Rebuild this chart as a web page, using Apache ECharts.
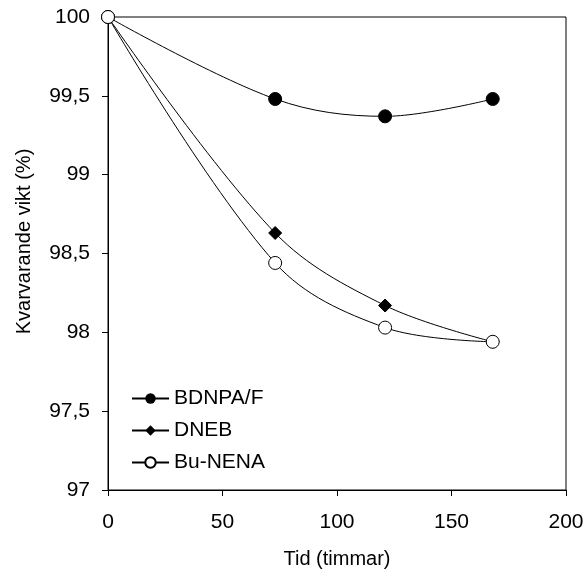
<!DOCTYPE html>
<html>
<head>
<meta charset="utf-8">
<script src="https://cdn.jsdelivr.net/npm/echarts@6/dist/echarts.min.js"></script>
<style>
  html, body { margin: 0; padding: 0; background: #fff; }
  #chart { width: 587px; height: 576px; }
</style>
</head>
<body>
<div id="chart"></div>
<script>
// Data
const hours = [0, 73, 121, 168];
const bdnpa = [100, 99.48, 99.37, 99.48];
const dneb = [100, 98.63, 98.17, 97.94];
const buNena = [100, 98.44, 98.03, 97.94];
const seriesNames = ['BDNPA/F', 'DNEB', 'Bu-NENA'];

const pairs = (xs, ys) => xs.map((x, i) => [x, ys[i]]);
const fmtComma = (v) => String(v).replace('.', ',');

const chart = echarts.init(document.getElementById('chart'));
const font = 'Liberation Sans, Arial, sans-serif';

const option = {
  animation: false,
  backgroundColor: '#fff',
  grid: {
    left: 108, top: 17, right: 21, bottom: 86,
    outerBoundsMode: 'none',
    containLabel: false,
    show: true, borderColor: '#000', borderWidth: 1
  },
  legend: {
    orient: 'vertical',
    left: 126,
    top: 383,
    itemWidth: 37,
    itemHeight: 13,
    itemGap: 11,
    textStyle: { fontFamily: font, fontSize: 21, color: '#000' },
    data: seriesNames
  },
  xAxis: {
    type: 'value',
    min: 0, max: 200, interval: 50,
    name: 'Tid (timmar)',
    nameLocation: 'middle',
    nameGap: 59,
    nameTextStyle: { fontFamily: font, fontSize: 20, color: '#000' },
    axisLine: { show: true, onZero: false, lineStyle: { color: '#000', width: 1 } },
    axisTick: { show: true, length: 6, lineStyle: { color: '#000' } },
    axisLabel: { fontFamily: font, fontSize: 21, color: '#000', margin: 22 },
    splitLine: { show: false }
  },
  yAxis: {
    type: 'value',
    min: 97, max: 100, interval: 0.5,
    name: 'Kvarvarande vikt (%)',
    nameLocation: 'middle',
    nameGap: 74,
    nameTextStyle: { fontFamily: font, fontSize: 20, color: '#000', padding: [0, 0, 0, 24] },
    axisLine: { show: true, onZero: false, lineStyle: { color: '#000', width: 1 } },
    axisTick: { show: true, length: 6, lineStyle: { color: '#000' } },
    axisLabel: { fontFamily: font, fontSize: 21, color: '#000', margin: 18, formatter: fmtComma },
    splitLine: { show: false }
  },
  series: [
    {
      name: seriesNames[0],
      type: 'line',
      smooth: 0.35,
      symbol: 'circle',
      symbolSize: 13,
      lineStyle: { color: '#000', width: 1 },
      itemStyle: { color: '#000', borderColor: '#000' },
      data: pairs(hours, bdnpa)
    },
    {
      name: seriesNames[1],
      type: 'line',
      smooth: 0.35,
      symbol: 'diamond',
      symbolSize: 13,
      lineStyle: { color: '#000', width: 1 },
      itemStyle: { color: '#000', borderColor: '#000' },
      data: pairs(hours, dneb)
    },
    {
      name: seriesNames[2],
      type: 'line',
      smooth: 0.35,
      symbol: 'circle',
      symbolSize: 13,
      z: 3,
      lineStyle: { color: '#000', width: 1 },
      itemStyle: { color: '#fff', borderColor: '#000', borderWidth: 1 },
      data: pairs(hours, buNena)
    }
  ]
};

chart.setOption(option);
window.addEventListener('resize', () => chart.resize());
</script>
</body>
</html>
